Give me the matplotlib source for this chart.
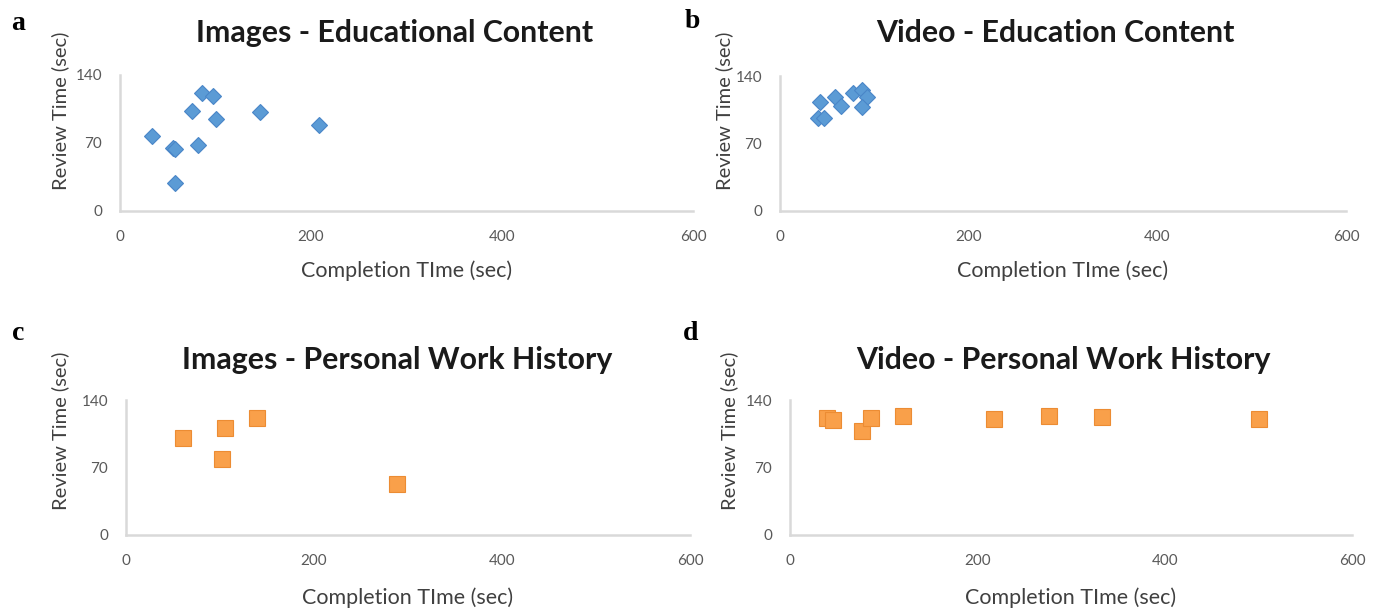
import matplotlib
matplotlib.use('Agg')

import matplotlib.pyplot as plt

# panel a: images - educational content
a_x = [34, 55, 58, 58, 75, 82, 86, 97, 100, 147, 208]
a_y = [77, 65, 64, 29, 103, 68, 121, 118, 95, 102, 89]

# panel b: video - education content
b_x = [42, 40, 47, 58, 65, 77, 87, 92, 87]
b_y = [113, 96, 96, 118, 109, 122, 125, 118, 108]

# panel c: images - personal work history
c_x = [61, 105, 102, 139, 288]
c_y = [101, 111, 79, 121, 53]

# panel d: video - personal work history
d_x = [40, 46, 77, 87, 121, 218, 277, 333, 501]
d_y = [121, 119, 108, 121, 123, 120, 123, 122, 120]

titles = ['Images - Educational Content', 'Video - Education Content',
          'Images - Personal Work History', 'Video - Personal Work History']
letters = ['a', 'b', 'c', 'd']
x_ticks = [0, 200, 400, 600]
y_ticks = [0, 70, 140]

W, H = 1375, 612
plt.rcParams['font.family'] = ['Lato', 'DejaVu Sans']

fig = plt.figure(figsize=(W / 100, H / 100), dpi=100)

# axes boxes in pixels: left, right, top(140), bottom(0)
boxes = [(120, 693, 75, 211), (780, 1346, 76, 211),
         (126, 690, 400, 535), (790, 1352, 400, 535)]
title_pos = [(395, 33), (1055, 33), (397, 360), (1063, 360)]
letter_pos = [(18, 23), (692, 22), (18, 333), (691, 334)]
ylab_pos = [(60, 111), (724, 111), (60, 431), (729, 431)]
xlab_off = [60, 60, 63, 63]
series = [(a_x, a_y, 'D'), (b_x, b_y, 'D'), (c_x, c_y, 's'), (d_x, d_y, 's')]

for i, (l, r, t, b) in enumerate(boxes):
    w, h = r - l, b - t
    ax = fig.add_axes([l / W, 1 - b / H, w / W, h / H])
    xs, ys, mk = series[i]
    if mk == 'D':
        ax.plot(xs, ys, 'D', ms=8, mfc='#5b9bd5', mec='#4a86c8', mew=0.8,
                ls='none', clip_on=False, zorder=3)
    else:
        ax.plot(xs, ys, 's', ms=12, mfc='#f9a04a', mec='#ec8c33', mew=0.8,
                ls='none', clip_on=False, zorder=3)
    ax.set_xlim(0, 600)
    ax.set_ylim(0, 140)
    ax.set_xticks(x_ticks)
    ax.set_yticks(y_ticks)
    ax.tick_params(length=0, labelsize=11, labelcolor='#595959')
    ax.tick_params(axis='x', pad=14)
    ax.tick_params(axis='y', pad=13)
    for s in ['top', 'right']:
        ax.spines[s].set_visible(False)
    for s in ['left', 'bottom']:
        ax.spines[s].set_color('#d9d9d9')
        ax.spines[s].set_linewidth(1.8)
    ax.set_xlabel('Completion TIme (sec)', fontsize=15.5, color='#404040', va='center')
    ax.xaxis.set_label_coords(0.5, -xlab_off[i] / h)
    ax.set_ylabel('Review Time (sec)', fontsize=14.5, color='#404040',
                  va='center', ha='center')
    ax.yaxis.set_label_coords((ylab_pos[i][0] - l) / w, (b - ylab_pos[i][1]) / h)

    fig.text(title_pos[i][0] / W, 1 - title_pos[i][1] / H, titles[i],
             fontsize=21.8, fontweight='bold', color='#1a1a1a', ha='center', va='center')
    fig.text(letter_pos[i][0] / W, 1 - letter_pos[i][1] / H, letters[i],
             fontsize=20, fontweight='bold', family='Liberation Serif',
             ha='center', va='center')

plt.savefig('out.png', dpi=100)
